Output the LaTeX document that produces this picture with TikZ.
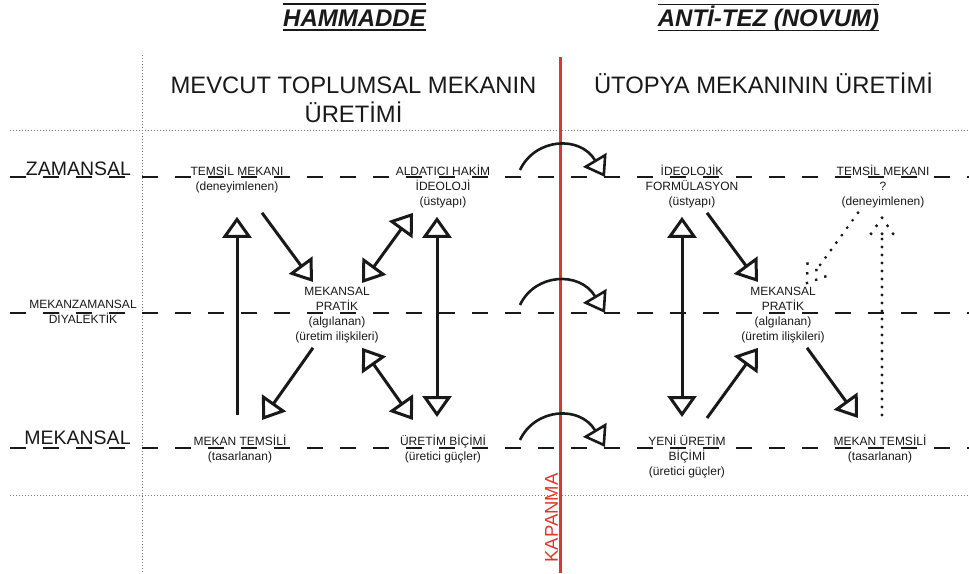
\documentclass[tikz,border=0pt]{standalone}
\usepackage{fontspec}
\setmainfont{Liberation Sans}
\usetikzlibrary{arrows.meta,calc}
\definecolor{kapred}{RGB}{221,56,44}
\definecolor{ink}{RGB}{25,25,25}
\tikzset{every node/.style={text=ink, inner sep=0pt},
  lbl/.style={font=\fontsize{12}{15}\selectfont, align=center, anchor=north, execute at begin node={\rule{0pt}{11pt}}},
  rowlbl/.style={font=\fontsize{19.5}{23}\selectfont, anchor=base},
  sublbl/.style={font=\fontsize{23.8}{29}\selectfont, align=center},
  titlelbl/.style={font=\fontsize{24}{28}\selectfont\bfseries\itshape, anchor=base},
  titlerule/.style={ink, line width=1.3pt},
  guide/.style={gray, line width=0.9pt, dash pattern=on 0.9pt off 2.1pt},
  levelline/.style={ink, line width=2pt, dash pattern=on 16pt off 17pt},
  kapline/.style={kapred, line width=2.3pt},
  bigarrow/.style={ink, line width=3pt, -{Triangle[open, length=21pt, width=29pt]}},
  bigboth/.style={ink, line width=3pt, {Triangle[open, length=21pt, width=29pt]}-{Triangle[open, length=21pt, width=29pt]}},
  kaparrow/.style={ink, line width=2.6pt, -{Triangle[open, length=20pt, width=27pt]}},
  dotline/.style={ink, line width=3.2pt, line cap=round, dash pattern=on 0pt off 8pt},
  dothead/.pic={\foreach \p in {(0,0),(-8,-5.5),(-8,5.5),(-16,-11),(-16,0),(-16,11)} \fill[ink] \p circle (1.7pt);}}

\begin{document}
\begin{tikzpicture}[x=1pt,y=-1pt]
  \useasboundingbox (0,0) rectangle (969,573);
  \draw[guide] (10,130) -- (969,130);
  \draw[guide] (10,495) -- (969,495);
  \draw[guide] (142,55) -- (142,573);
  \draw[levelline] (10,177) -- (969,177);
  \draw[levelline] (10,313) -- (969,313);
  \draw[levelline] (10,448) -- (969,448);

  \node[titlelbl] (ham) at (354.5,26) {HAMMADDE};
  \draw[titlerule] ([yshift=22pt]ham.base west) -- ([yshift=22pt]ham.base east);
  \draw[titlerule] ([yshift=-4pt]ham.base west) -- ([yshift=-4pt]ham.base east);
  \node[titlelbl] (ant) at (768.5,26) {ANTİ-TEZ (NOVUM)};
  \draw[titlerule] ([yshift=21.5pt]ant.base west) -- ([yshift=21.5pt]ant.base east);
  \draw[titlerule] ([yshift=-4.5pt]ant.base west) -- ([yshift=-4.5pt]ant.base east);

  \node[sublbl, anchor=north] (subL) at (353.5,72) {\rule{0pt}{21pt}MEVCUT TOPLUMSAL MEKANIN\\ÜRETİMİ};
  \node[sublbl, anchor=base] (subR) at (763.5,93) {ÜTOPYA MEKANININ ÜRETİMİ};

  \node[rowlbl] (zam) at (78.5,175) {ZAMANSAL};
  \node[lbl] (diy) at (83,299.5) {MEKANZAMANSAL\\DİYALEKTİK};
  \node[rowlbl] (mek) at (77.5,444) {MEKANSAL};

  % hammadde
  \node[lbl] (tmL) at (237,164.5) {TEMSİL MEKANI\\(deneyimlenen)};
  \node[lbl] (alL) at (443,164.5) {ALDATICI HAKİM\\İDEOLOJİ\\(üstyapı)};
  \node[lbl] (mpL) at (337,287) {MEKANSAL\\PRATİK\\(algılanan)\\(üretim ilişkileri)};
  \node[lbl] (mtL) at (240,435) {MEKAN TEMSİLİ\\(tasarlanan)};
  \node[lbl] (ubL) at (443,435) {ÜRETİM BİÇİMİ\\(üretici güçler)};

  \draw[bigarrow] ($(mtL.north)+(-3,-20.5)$) -- ($(tmL.south)+(0,24)$);
  \draw[bigarrow] ($(tmL.south)+(25,20)$) -- ($(mpL.north)+(-24,-5)$);
  \draw[bigboth] ($(mpL.north)+(25,-4)$) -- ($(alL.south)+(-30,5)$);
  \draw[bigboth] ($(ubL.north)+(-6,-18)$) -- ($(alL.south)+(-6,9)$);
  \draw[bigarrow] ($(mpL.south)+(-24,4.5)$) -- ($(mtL.north)+(22,-15)$);
  \draw[bigboth] ($(mpL.south)+(25,4.5)$) -- ($(ubL.north)+(-30,-15)$);

  % kapanma
  \draw[kapline] (560.5,57) -- (560.5,573);
  \node[font=\fontsize{18.5}{22}\selectfont, text=kapred, rotate=90] (kap) at (551.5,518) {KAPANMA};
  \coordinate (kz1a) at (520,170); \coordinate (kz1b) at (605,177);
  \coordinate (kz2a) at (520,305); \coordinate (kz2b) at (605,313);
  \coordinate (kz3a) at (520,440); \coordinate (kz3b) at (605,447);
  \draw[kaparrow] (kz1a) .. controls +(15,-32) and +(-25,-42) .. (kz1b);
  \draw[kaparrow] (kz2a) .. controls +(15,-32) and +(-25,-42) .. (kz2b);
  \draw[kaparrow] (kz3a) .. controls +(15,-32) and +(-25,-42) .. (kz3b);

  % anti-tez
  \node[lbl] (ifR) at (692,164.5) {İDEOLOJİK\\FORMÜLASYON\\(üstyapı)};
  \node[lbl] (tmR) at (883,164.5) {TEMSİL MEKANI\\?\\(deneyimlenen)};
  \node[lbl] (mpR) at (783,287) {MEKANSAL\\PRATİK\\(algılanan)\\(üretim ilişkileri)};
  \node[lbl] (yuR) at (687,435) {YENİ ÜRETİM\\BİÇİMİ\\(üretici güçler)};
  \node[lbl] (mtR) at (880,435) {MEKAN TEMSİLİ\\(tasarlanan)};

  \draw[bigboth] ($(yuR.north)+(-5,-18)$) -- ($(ifR.south)+(-10,9)$);
  \draw[bigarrow] ($(ifR.south)+(15,5)$) -- ($(mpR.north)+(-25,-5)$);
  \draw[bigarrow] ($(yuR.north)+(20,-17)$) -- ($(mpR.south)+(-25,4.5)$);
  \draw[bigarrow] ($(mpR.south)+(24,4.5)$) -- ($(mtR.north)+(-22,-17)$);

  \coordinate (dvTip) at ($(tmR.south)+(-1,10)$);
  \draw[dotline, shorten >=16pt] ($(mtR.north)+(2,-20)$) -- (dvTip);
  \pic[rotate=90] at (dvTip) {dothead};
  \coordinate (ddTip) at ($(mpR.north)+(24,-4)$);
  \draw[dotline, dash pattern=on 0pt off 9.2pt, shorten >=15pt] ($(tmR.south)+(-25,5)$) -- (ddTip);
  \pic[rotate=234] at (ddTip) {dothead};
\end{tikzpicture}
\end{document}
